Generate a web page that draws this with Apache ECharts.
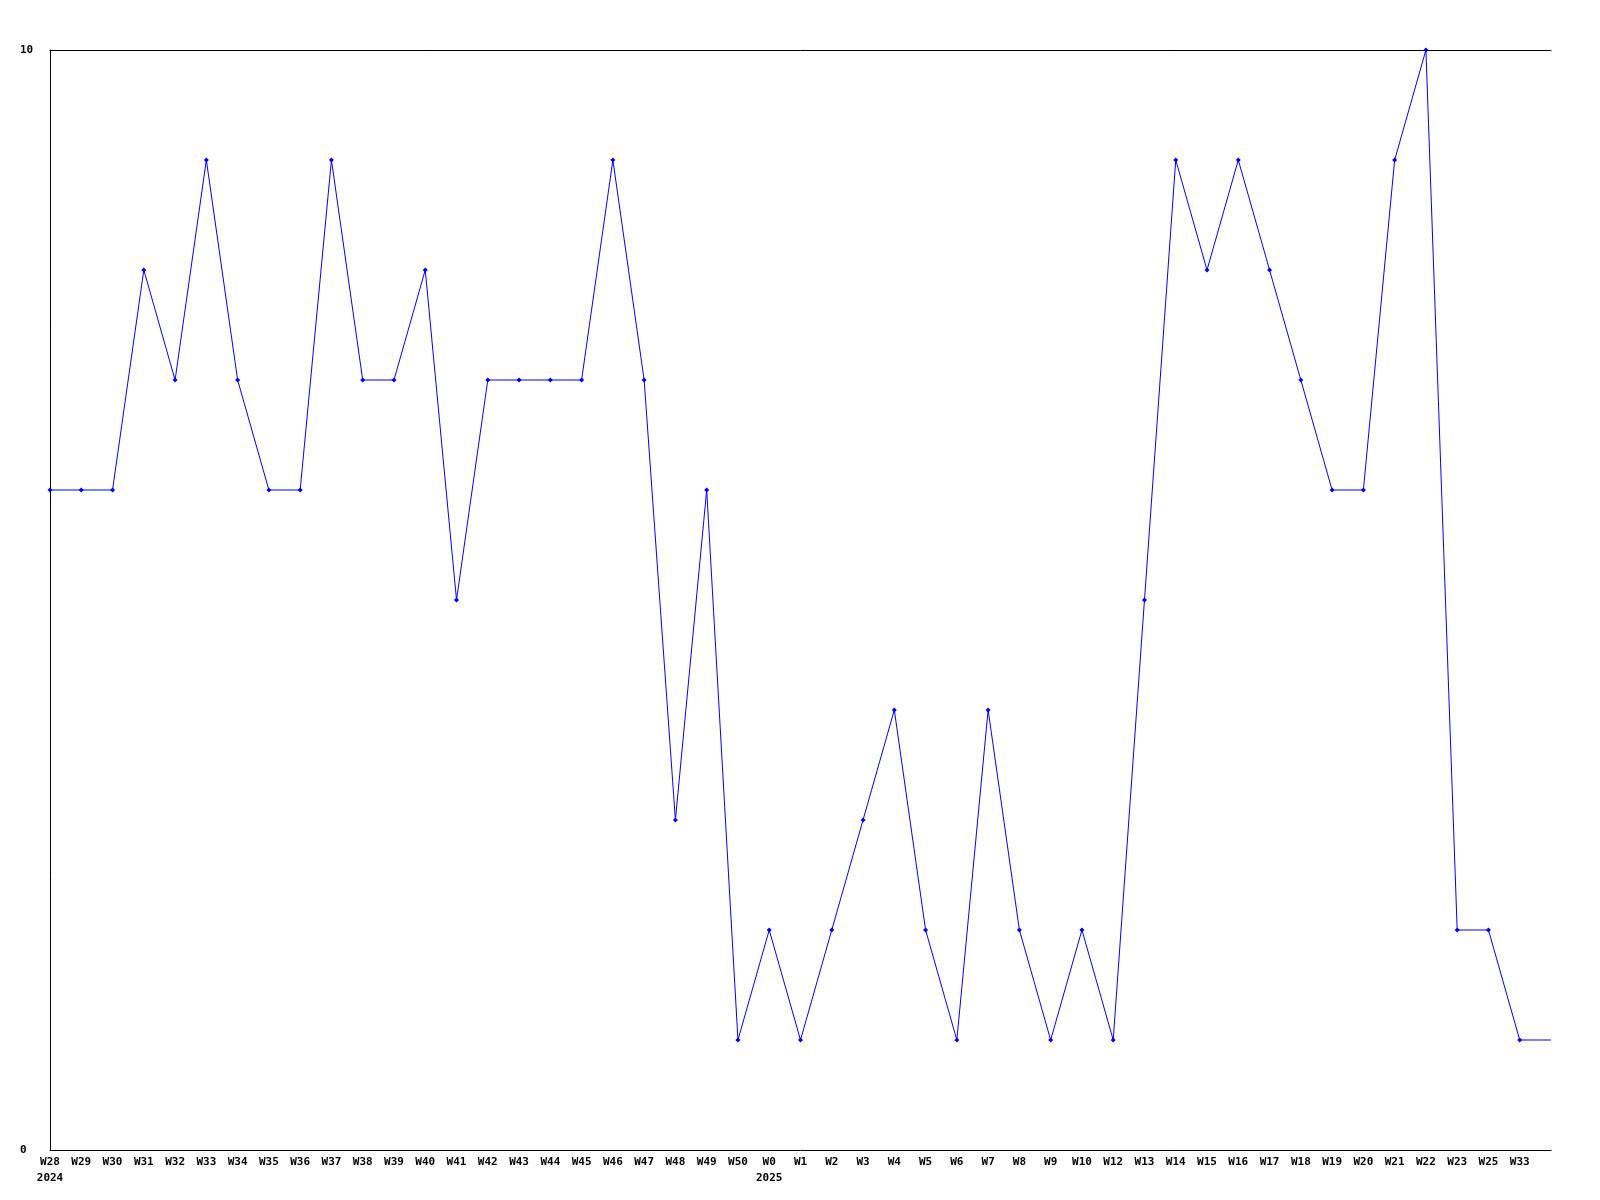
<!DOCTYPE html>
<html>
<head>
<meta charset="utf-8">
<script src="https://cdn.jsdelivr.net/npm/echarts@6/dist/echarts.min.js"></script>
<style>html,body{margin:0;padding:0;background:#fff}#c{width:1600px;height:1200px}</style>
</head>
<body>
<div id="c"></div>
<script>
const weekLabels = ['W28','W29','W30','W31','W32','W33','W34','W35','W36','W37','W38','W39','W40','W41','W42','W43','W44','W45','W46','W47','W48','W49','W50',
  'W0','W1','W2','W3','W4','W5','W6','W7','W8','W9','W10',
  'W12','W13','W14','W15','W16','W17','W18','W19','W20','W21','W22','W23','W25','W33',''];
const yearLabels = {0:'2024', 23:'2025'};
const values = [6,6,6,8,7,9,7,6,6,9,7,7,8,5,7,7,7,7,9,7,3,6,1,
  2,1,2,3,4,2,1,4,2,1,2,
  1,5,9,8,9,8,7,6,6,9,10,2,2,1,1];
const yTicks = [0,10];

const font = '"DejaVu Sans Mono", monospace';
const chart = echarts.init(document.getElementById('c'), null, {renderer:'canvas'});
const seriesData = values.map((v,i) => i === values.length-1 ? {value:v, symbol:'none'} : v);
chart.setOption({
  animation:false,
  backgroundColor:'#fff',
  grid:{left:50,right:49,top:50,bottom:50,containLabel:false},
  xAxis:[{
    type:'category', data:weekLabels, boundaryGap:false,
    axisLine:{show:true,lineStyle:{color:'#000',width:1}},
    axisTick:{show:false}, splitLine:{show:false},
    axisLabel:{interval:0, margin:4, color:'#000', fontFamily:font, fontWeight:'bold', fontSize:11, lineHeight:16,
      formatter:(v,i)=> yearLabels[i] ? v+'\n'+yearLabels[i] : v}
  },{
    type:'category', data:weekLabels, boundaryGap:false, position:'top',
    axisLine:{show:true,lineStyle:{color:'#000',width:1}},
    axisTick:{show:false}, axisLabel:{show:false}, splitLine:{show:false}
  }],
  yAxis:{
    type:'value', min:yTicks[0], max:yTicks[1], interval:10,
    axisLine:{show:true,lineStyle:{color:'#000',width:1}},
    axisTick:{show:false}, splitLine:{show:false},
    axisLabel:{align:'left', margin:30, color:'#000', fontFamily:font, fontWeight:'bold', fontSize:11}
  },
  series:[{
    type:'line', data:seriesData, xAxisIndex:0,
    lineStyle:{color:'#0000ff',width:1}, itemStyle:{color:'#0000ff'},
    symbol:'diamond', symbolSize:5, showSymbol:true
  }]
});
</script>
</body>
</html>
